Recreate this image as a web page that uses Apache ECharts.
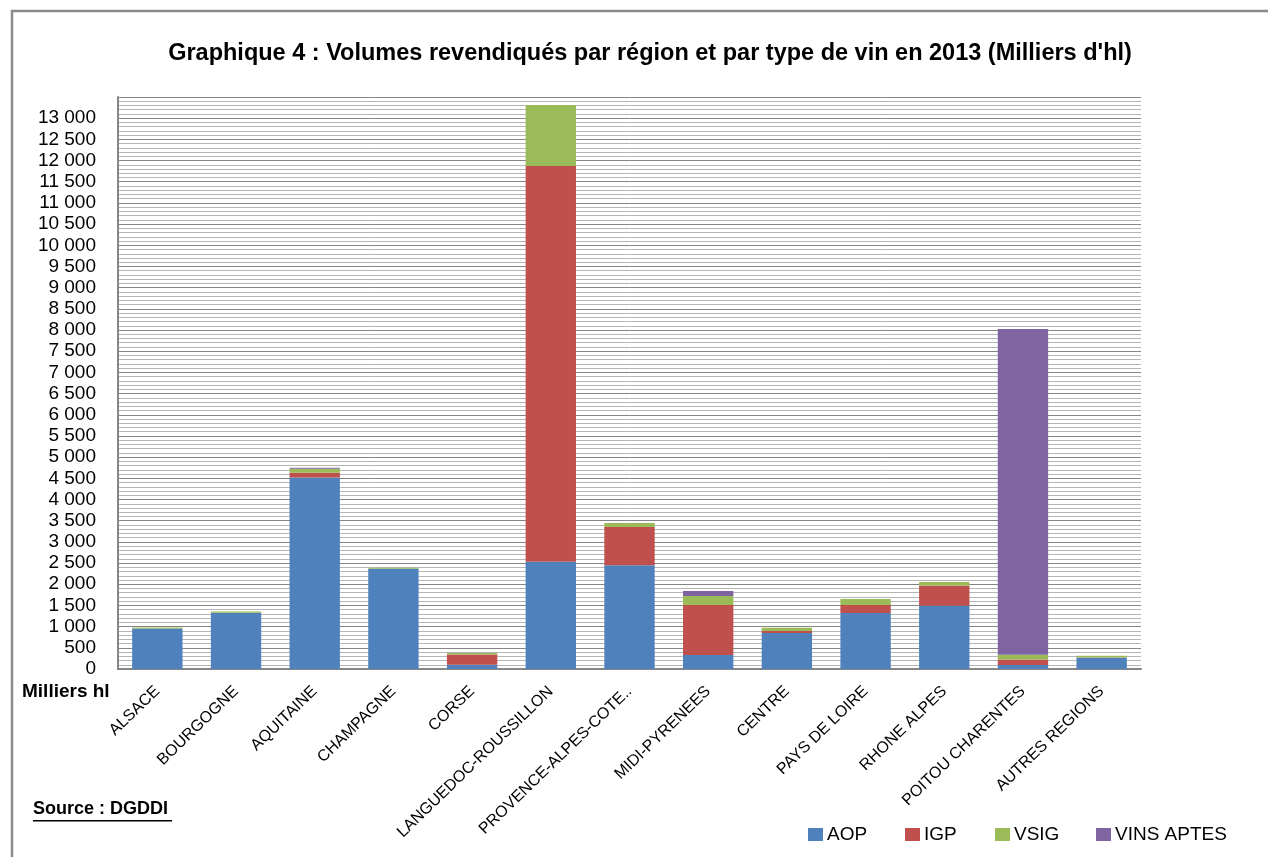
<!DOCTYPE html>
<html>
<head>
<meta charset="utf-8">
<script src="https://cdn.jsdelivr.net/npm/echarts@6/dist/echarts.min.js"></script>
<style>
html,body{margin:0;padding:0;background:#fff;}
#chart{width:1268px;height:857px;}
</style>
</head>
<body>
<div id="chart"></div>
<script>
const categories = ['ALSACE','BOURGOGNE','AQUITAINE','CHAMPAGNE','CORSE','LANGUEDOC-ROUSSILLON','PROVENCE-ALPES-COTE..','MIDI-PYRENEES','CENTRE','PAYS DE LOIRE','RHONE ALPES','POITOU CHARENTES','AUTRES REGIONS'];
const seriesNames = ['AOP','IGP','VSIG','VINS APTES'];
const aop  = [955, 1330, 4520, 2365, 100, 2530, 2450, 330, 850, 1320, 1495, 95, 265];
const igp  = [0, 0, 110, 0, 240, 9340, 900, 1180, 45, 190, 470, 130, 5];
const vsig = [25, 25, 95, 25, 35, 1440, 95, 210, 80, 140, 90, 110, 40];
const vinsAptes = [0, 0, 25, 0, 0, 0, 0, 120, 0, 0, 0, 7690, 0];
const colors = ['#4F81BD','#C0504D','#9BBB59','#8064A2'];

const FONT = "'Liberation Sans', Arial, sans-serif";
const chart = echarts.init(document.getElementById('chart'));
const fmt = v => v === 13500 ? '' : String(v).replace(/\B(?=(\d{3})+(?!\d))/g, ' ');
const values = [aop, igp, vsig, vinsAptes];
const legendLeft = [803, 900, 990, 1091];

const option = {
  animation: false,
  backgroundColor: '#fff',
  textStyle: { fontFamily: FONT },
  title: {
    text: "Graphique 4 : Volumes revendiqués par région et par type de vin en 2013 (Milliers d'hl)",
    left: 645, top: 37, textAlign: 'center',
    textStyle: { fontFamily: FONT, fontSize: 23.5, fontWeight: 'bold', color: '#000' }
  },
  legend: seriesNames.map((n, i) => ({
    data: [n], left: legendLeft[i], top: 820, itemWidth: 15, itemHeight: 13, itemGap: 5,
    icon: 'rect', selectedMode: false,
    textStyle: { fontFamily: FONT, fontSize: 19, color: '#000', padding: [0, 0, 0, -1] }
  })),
  grid: { left: 118, right: 127, top: 97, bottom: 188, containLabel: false },
  xAxis: {
    type: 'category', data: categories,
    axisLine: { lineStyle: { color: '#868686', width: 2 } },
    axisTick: { show: false },
    axisLabel: { interval: 0, rotate: 44, margin: 20, fontSize: 16, color: '#000', fontFamily: FONT }
  },
  yAxis: {
    type: 'value', min: 0, max: 13500, interval: 500,
    axisLine: { show: true, lineStyle: { color: '#868686', width: 2 } },
    axisTick: { show: false },
    axisLabel: { formatter: fmt, fontSize: 19, color: '#000', margin: 22, fontFamily: FONT },
    splitLine: { show: true, lineStyle: { color: '#858585', width: 1 } },
    minorTick: { show: false, splitNumber: 5 },
    minorSplitLine: { show: true, lineStyle: { color: '#b6b6b6', width: 1 } }
  },
  series: seriesNames.map((n, i) => ({
    name: n, type: 'bar', stack: 'total', data: values[i],
    barCategoryGap: '36%',
    itemStyle: { color: colors[i] }
  })),
  graphic: [
    { type: 'rect', shape: { x: 12, y: 11, width: 1300, height: 900 }, style: { fill: 'none', stroke: '#8a8a8a', lineWidth: 2.5 }, z: 100 },
    { type: 'text', left: 22, top: 682, style: { text: 'Milliers hl', font: "bold 19px " + FONT, fill: '#000' } },
    { type: 'text', left: 33, top: 800, style: { text: 'Source : DGDDI', font: "bold 18px " + FONT, fill: '#000' } },
    { type: 'rect', shape: { x: 33, y: 820, width: 139, height: 1.5 }, style: { fill: '#000' } }
  ]
};
chart.setOption(option);
</script>
</body>
</html>
